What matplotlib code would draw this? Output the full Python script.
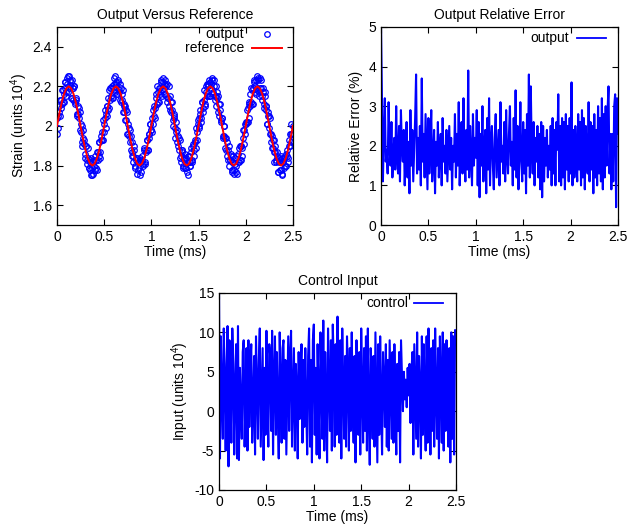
import matplotlib
matplotlib.use("Agg")

import matplotlib.pyplot as plt
import numpy as np

plt.rcParams["font.family"] = ["Liberation Sans", "DejaVu Sans"]
plt.rcParams["font.size"] = 10
plt.rcParams["mathtext.fontset"] = "custom"
plt.rcParams["mathtext.rm"] = "Liberation Sans"
plt.rcParams["mathtext.it"] = "Liberation Sans"
plt.rcParams["mathtext.default"] = "regular"
plt.rcParams["axes.unicode_minus"] = False

###------------------------data----------------------------###
# measured strain, every 0.01 ms from 0 to 2.5 ms
output_strain = [
    1.96, 2.05, 2.10, 2.05, 2.13, 2.11, 2.18, 2.12, 2.22, 2.19,
    2.17, 2.24, 2.17, 2.25, 2.20, 2.22, 2.14, 2.19, 2.20, 2.12,
    2.13, 2.06, 2.10, 2.04, 2.07, 1.97, 2.00, 1.90, 1.94, 1.93,
    1.86, 1.90, 1.81, 1.84, 1.79, 1.83, 1.75, 1.79, 1.76, 1.83,
    1.78, 1.83, 1.78, 1.87, 1.85, 1.92, 1.87, 1.95, 1.93, 2.03,
    1.97, 2.08, 2.06, 2.05, 2.14, 2.09, 2.19, 2.15, 2.20, 2.14,
    2.21, 2.25, 2.18, 2.21, 2.16, 2.22, 2.17, 2.21, 2.12, 2.16,
    2.07, 2.11, 2.10, 2.03, 2.07, 1.96, 1.99, 1.92, 1.95, 1.85,
    1.87, 1.82, 1.88, 1.80, 1.83, 1.76, 1.82, 1.79, 1.84, 1.77,
    1.83, 1.80, 1.88, 1.81, 1.88, 1.93, 1.88, 1.96, 1.94, 2.01,
    1.98, 2.04, 2.01, 2.10, 2.09, 2.16, 2.11, 2.17, 2.12, 2.19,
    2.22, 2.18, 2.24, 2.16, 2.21, 2.16, 2.20, 2.12, 2.14, 2.10,
    2.15, 2.07, 2.08, 2.00, 2.05, 1.99, 2.02, 1.92, 1.95, 1.88,
    1.93, 1.82, 1.87, 1.88, 1.80, 1.84, 1.79, 1.84, 1.77, 1.85,
    1.82, 1.80, 1.87, 1.82, 1.91, 1.88, 1.93, 1.89, 1.97, 2.03,
    2.04, 1.99, 2.06, 2.04, 2.12, 2.07, 2.13, 2.11, 2.20, 2.15,
    2.20, 2.15, 2.22, 2.19, 2.24, 2.16, 2.20, 2.15, 2.20, 2.10,
    2.14, 2.15, 2.05, 2.08, 2.02, 2.04, 1.95, 2.00, 1.94, 1.88,
    1.92, 1.83, 1.90, 1.83, 1.85, 1.77, 1.82, 1.85, 1.78, 1.81,
    1.77, 1.85, 1.82, 1.89, 1.83, 1.90, 1.85, 1.94, 1.98, 1.96,
    2.02, 2.02, 2.09, 2.04, 2.12, 2.10, 2.19, 2.11, 2.19, 2.23,
    2.17, 2.23, 2.19, 2.24, 2.17, 2.24, 2.19, 2.15, 2.19, 2.11,
    2.17, 2.10, 2.10, 2.01, 2.05, 2.05, 1.96, 1.96, 1.89, 1.93,
    1.87, 1.90, 1.82, 1.85, 1.77, 1.82, 1.83, 1.78, 1.84, 1.76,
    1.82, 1.79, 1.85, 1.80, 1.85, 1.84, 1.93, 1.90, 1.96, 1.93,
    2.00,
]

# measured strain at the half steps 0.005, 0.015, ... 2.495 ms
output_strain_half = [
    2.04, 1.99, 2.07, 2.13, 2.09, 2.18, 2.12, 2.16, 2.22, 2.15,
    2.21, 2.25, 2.19, 2.23, 2.14, 2.23, 2.19, 2.13, 2.20, 2.11,
    2.14, 2.05, 2.06, 2.09, 1.98, 2.01, 1.92, 1.98, 1.91, 1.84,
    1.90, 1.83, 1.89, 1.79, 1.82, 1.78, 1.84, 1.75, 1.82, 1.80,
    1.85, 1.79, 1.87, 1.83, 1.92, 1.84, 1.93, 1.97, 1.93, 2.01,
    2.04, 1.99, 2.10, 2.10, 2.08, 2.18, 2.13, 2.19, 2.14, 2.19,
    2.24, 2.17, 2.22, 2.16, 2.23, 2.18, 2.13, 2.19, 2.13, 2.18,
    2.07, 2.10, 2.03, 2.08, 1.96, 2.01, 1.95, 1.98, 1.88, 1.92,
    1.85, 1.90, 1.79, 1.84, 1.84, 1.78, 1.82, 1.83, 1.75, 1.82,
    1.85, 1.81, 1.89, 1.82, 1.87, 1.93, 1.88, 1.96, 2.01, 1.98,
    1.97, 2.08, 2.05, 2.04, 2.14, 2.11, 2.20, 2.12, 2.19, 2.16,
    2.23, 2.15, 2.22, 2.19, 2.23, 2.15, 2.21, 2.14, 2.20, 2.08,
    2.12, 2.12, 2.03, 2.06, 2.04, 1.94, 1.97, 1.98, 1.90, 1.94,
    1.84, 1.85, 1.88, 1.79, 1.83, 1.86, 1.79, 1.83, 1.75, 1.85,
    1.82, 1.80, 1.89, 1.83, 1.90, 1.85, 1.92, 1.99, 1.93, 2.01,
    2.00, 2.08, 2.02, 2.12, 2.09, 2.18, 2.10, 2.17, 2.21, 2.16,
    2.21, 2.23, 2.15, 2.21, 2.23, 2.17, 2.23, 2.13, 2.15, 2.17,
    2.07, 2.11, 2.11, 2.03, 2.04, 1.94, 2.00, 1.95, 1.89, 1.94,
    1.85, 1.88, 1.80, 1.83, 1.86, 1.78, 1.82, 1.76, 1.84, 1.80,
    1.76, 1.86, 1.82, 1.90, 1.83, 1.90, 1.89, 1.98, 1.91, 2.01,
    2.01, 2.08, 2.02, 2.11, 2.16, 2.12, 2.18, 2.11, 2.22, 2.20,
    2.16, 2.25, 2.18, 2.23, 2.15, 2.19, 2.23, 2.13, 2.17, 2.09,
    2.15, 2.08, 2.01, 2.07, 1.99, 2.04, 1.92, 1.95, 1.89, 1.93,
    1.82, 1.87, 1.83, 1.87, 1.77, 1.84, 1.78, 1.85, 1.75, 1.82,
    1.84, 1.80, 1.86, 1.88, 1.82, 1.90, 1.96, 1.92, 2.01, 1.96,
]

# reference strain, every 0.025 ms
reference_strain = [
    2.000, 2.062, 2.118, 2.162, 2.190, 2.200, 2.190, 2.162, 2.118, 2.062,
    2.000, 1.938, 1.882, 1.838, 1.810, 1.800, 1.810, 1.838, 1.882, 1.938,
    2.000, 2.062, 2.118, 2.162, 2.190, 2.200, 2.190, 2.162, 2.118, 2.062,
    2.000, 1.938, 1.882, 1.838, 1.810, 1.800, 1.810, 1.838, 1.882, 1.938,
    2.000, 2.062, 2.118, 2.162, 2.190, 2.200, 2.190, 2.162, 2.118, 2.062,
    2.000, 1.938, 1.882, 1.838, 1.810, 1.800, 1.810, 1.838, 1.882, 1.938,
    2.000, 2.062, 2.118, 2.162, 2.190, 2.200, 2.190, 2.162, 2.118, 2.062,
    2.000, 1.938, 1.882, 1.838, 1.810, 1.800, 1.810, 1.838, 1.882, 1.938,
    2.000, 2.062, 2.118, 2.162, 2.190, 2.200, 2.190, 2.162, 2.118, 2.062,
    2.000, 1.938, 1.882, 1.838, 1.810, 1.800, 1.810, 1.838, 1.882, 1.938,
    2.000,
]

# relative error (%), every 0.01 ms
rel_error = [
    5.0, 3.2, 1.1, 2.3, 3.2, 1.6, 1.9, 1.3, 3.1, 2.0,
    1.5, 2.6, 1.2, 1.8, 2.2, 1.4, 3.0, 1.7, 1.3, 2.5,
    1.1, 2.9, 2.0, 1.6, 2.4, 1.0, 1.9, 2.6, 1.2, 2.1,
    0.8, 2.9, 1.5, 2.4, 1.1, 1.9, 2.7, 3.8, 1.3, 2.2,
    1.4, 2.5, 1.0, 3.7, 1.6, 2.3, 1.2, 2.8, 1.8, 0.9,
    2.7, 1.3, 2.0, 2.9, 1.1, 1.7, 2.4, 0.8, 2.1, 1.5,
    2.6, 1.2, 1.9, 2.3, 1.0, 2.7, 1.6, 2.0, 1.3, 2.4,
    1.1, 1.8, 2.5, 1.4, 2.2, 0.9, 2.0, 1.6, 2.8, 1.2,
    2.3, 1.5, 3.1, 1.0, 2.0, 2.6, 1.3, 3.2, 1.7, 1.1,
    2.4, 1.4, 3.9, 1.2, 2.5, 1.8, 1.0, 2.8, 1.5, 2.2,
    1.7, 2.9, 1.0, 2.6, 0.7, 2.3, 1.5, 3.0, 1.1, 2.0,
    2.4, 0.8, 2.7, 1.4, 3.2, 1.0, 2.1, 2.5, 1.5, 0.9,
    2.2, 2.8, 1.2, 1.8, 2.4, 1.0, 3.1, 1.6, 2.0, 1.3,
    2.6, 1.1, 2.9, 1.7, 1.3, 2.3, 3.0, 1.5, 2.1, 1.0,
    2.7, 1.4, 3.4, 1.2, 2.5, 0.9, 1.8, 3.1, 1.6, 1.1,
    2.6, 1.3, 2.4, 0.8, 2.8, 1.5, 3.8, 1.2, 3.5, 1.9,
    1.3, 2.6, 1.0, 2.2, 1.6, 2.5, 1.2, 2.3, 0.9, 2.6,
    0.7, 2.5, 1.1, 2.2, 1.5, 2.4, 1.2, 2.0, 1.4, 2.5,
    1.0, 2.7, 1.3, 2.4, 1.0, 2.6, 1.9, 3.3, 1.1, 2.5,
    1.0, 2.7, 1.2, 2.6, 0.9, 2.8, 1.4, 2.5, 1.1, 2.7,
    1.3, 3.6, 1.0, 2.4, 1.2, 2.5, 1.7, 1.1, 2.8, 1.4,
    2.6, 1.0, 2.9, 1.2, 2.7, 0.9, 2.5, 1.8, 1.3, 3.1,
    1.1, 2.6, 1.4, 2.5, 0.8, 2.8, 1.2, 2.4, 1.0, 3.0,
    1.3, 2.7, 1.1, 3.2, 0.9, 2.8, 1.2, 3.0, 1.5, 2.9,
    3.5, 1.3, 2.3, 0.9, 2.3, 1.1, 3.0, 3.3, 0.45, 3.2,
    2.3,
]

# control input (units 10^4), every 0.01 ms
control = [
    15.0, -6.0, 9.5, 2.0, -3.5, 10.5, 4.0, -5.0, 6.0, 10.8,
    -7.0, 9.0, 1.5, -4.0, 10.5, 6.0, -5.5, 3.0, 8.5, -6.0,
    10.8, -6.2, 5.5, 0.5, -3.5, 7.5, 9.0, -4.5, 2.5, 8.0,
    -5.0, 9.0, -2.0, 6.0, 8.5, -4.0, 1.0, 7.0, -5.5, 9.5,
    3.5, -3.5, 6.5, 10.5, -4.5, 2.0, 8.0, -6.2, 5.5, -3.0,
    10.2, 1.0, -4.5, 8.5, 7.0, -2.5, 10.2, -5.5, 4.0, 9.5,
    -3.0, 7.5, 0.0, -6.0, 10.0, 3.5, -4.0, 8.0, 9.0, -3.5,
    6.5, -5.5, 2.0, 9.5, -2.5, 7.0, 10.2, -4.5, 1.5, 8.0,
    -5.0, 6.0, 3.0, -6.0, 7.5, -1.0, 4.5, 8.5, -4.0, 6.5,
    -2.0, 8.0, 0.5, -5.5, 7.0, 10.5, -4.5, 6.5, -6.5, 9.0,
    11.0, -3.0, 5.5, -5.5, 8.5, 2.0, -6.0, 10.0, 4.0, -3.5,
    11.5, -5.0, 7.5, 1.0, -6.5, 10.5, 3.5, -2.5, 9.0, -5.0,
    11.0, 6.0, -4.5, 8.5, -3.0, 12.0, 0.5, -4.0, 9.0, -6.0,
    10.5, 3.0, -3.5, 7.0, -4.5, 9.5, 5.0, -5.0, 8.0, -2.5,
    10.0, 1.5, -4.0, 7.0, -6.5, 9.0, 4.0, -3.0, 7.5, -5.5,
    10.5, 2.5, -4.0, 8.0, -2.5, 9.5, -5.0, 10.5, 0.0, -6.8,
    8.0, 5.0, -3.5, 7.0, -4.5, 10.0, 2.0, -6.5, 8.5, -3.0,
    9.5, 1.0, -5.5, 7.5, 4.0, -2.0, 8.5, -4.5, 6.5, -5.0,
    9.0, 3.0, -3.5, 7.5, -4.0, 8.5, 0.5, -5.5, 6.0, -2.5,
    7.5, -6.5, 9.0, 4.5, 0.0, 5.0, 1.5, 4.0, 0.5, 5.5,
    2.0, 6.0, -1.5, 5.0, 7.5, -5.5, 8.5, 2.5, -3.5, 10.0,
    -4.5, 7.0, 3.0, -6.0, 9.5, -3.0, 8.5, 1.0, -5.0, 9.5,
    -4.0, 10.5, 4.5, -5.5, 8.0, -2.5, 9.0, -4.5, 10.5, 2.0,
    -3.5, 8.0, -6.0, 9.5, 3.5, -4.0, 10.0, -5.0, 8.5, -2.5,
    9.0, 0.5, -4.5, 8.0, -6.5, 10.0, -3.5, 9.5, -5.5, 10.3,
    8.5,
]

t_fine = np.linspace(0, 2.5, len(output_strain))
t_half = np.linspace(0.005, 2.495, len(output_strain_half))
t_ref = np.linspace(0, 2.5, len(reference_strain))

x_ticks = [0, 0.5, 1, 1.5, 2, 2.5]
x_tick_labels = ["0", "0.5", "1", "1.5", "2", "2.5"]

BLUE = "#0000ff"
RED = "#ff0000"


###-------------------helpers------------------------------###
def gnuplot_axes(ax):
    ax.tick_params(direction="in", top=True, right=True, length=4, width=0.8)
    for s in ax.spines.values():
        s.set_linewidth(0.9)
    ax.set_xlim(0, 2.5)
    ax.set_xticks(x_ticks)
    ax.set_xticklabels(x_tick_labels)
    ax.set_xlabel("Time (ms)", labelpad=1)


def key_line(ax, label, y, x_text, x0, x1, **kw):
    ax.text(x_text, y, label, transform=ax.transAxes, ha="right", va="center")
    ax.plot([x0, x1], [y, y], transform=ax.transAxes, clip_on=False, **kw)


###-------------------figure-------------------------------###
fig = plt.figure(figsize=(6.41, 5.24), dpi=100)

ax1 = fig.add_axes([0.0889, 0.5706, 0.368, 0.378])
ax2 = fig.add_axes([0.5944, 0.5706, 0.3697, 0.378])
ax3 = fig.add_axes([0.3417, 0.0649, 0.3697, 0.376])

# output vs reference
all_t = np.concatenate([t_fine, t_half])
all_out = np.concatenate([output_strain, output_strain_half])
order = np.argsort(all_t)
ax1.plot(all_t[order], all_out[order], linestyle="none", marker="o", ms=4,
         mfc="none", mec=BLUE, mew=0.9, zorder=2)
ax1.plot(t_ref, reference_strain, color=RED, lw=1.4, zorder=3)
gnuplot_axes(ax1)
ax1.set_ylim(1.5, 2.5)
ax1.set_yticks([1.6, 1.8, 2.0, 2.2, 2.4])
ax1.set_yticklabels(["1.6", "1.8", "2", "2.2", "2.4"])
ax1.set_ylabel("Strain (units 10$^4$)", labelpad=2)
ax1.set_title("Output Versus Reference", fontsize=10, pad=6)
ax1.text(0.792, 0.965, "output", transform=ax1.transAxes, ha="right", va="center")
ax1.plot([0.89], [0.965], transform=ax1.transAxes, clip_on=False,
         marker="o", ms=4, mfc="none", mec=BLUE, mew=0.9)
key_line(ax1, "reference", 0.895, 0.792, 0.826, 0.953, color=RED, lw=1.4)

# relative error
ax2.plot(t_fine, rel_error, color=BLUE, lw=1.5)
gnuplot_axes(ax2)
ax2.set_ylim(0, 5)
ax2.set_yticks([0, 1, 2, 3, 4, 5])
ax2.set_ylabel("Relative Error (%)", labelpad=4)
ax2.set_title("Output Relative Error", fontsize=10, pad=6)
key_line(ax2, "output", 0.946, 0.793, 0.827, 0.949, color=BLUE, lw=1.3)

# control input
ax3.plot(t_fine, control, color=BLUE, lw=1.5)
gnuplot_axes(ax3)
ax3.set_ylim(-10, 15)
ax3.set_yticks([-10, -5, 0, 5, 10, 15])
ax3.set_ylabel("Input (units 10$^4$)", labelpad=2)
ax3.set_title("Control Input", fontsize=10, pad=6)
key_line(ax3, "control", 0.951, 0.797, 0.823, 0.945, color=BLUE, lw=1.3)

plt.savefig("out.png", dpi=100)
